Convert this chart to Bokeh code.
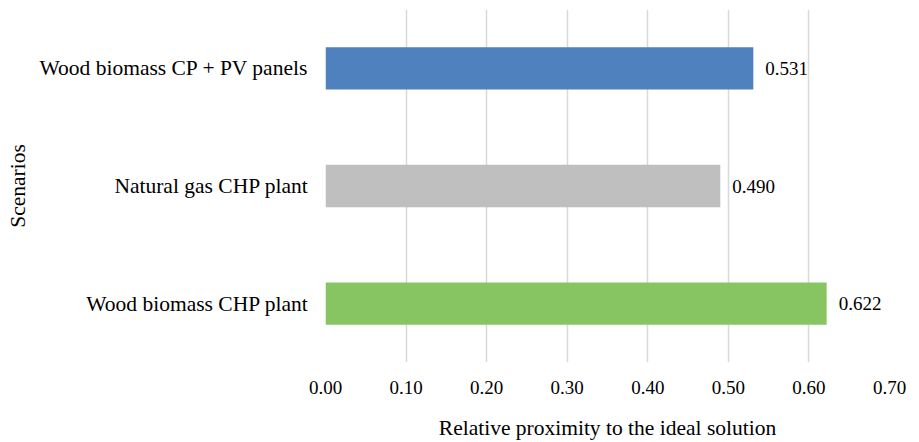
from bokeh.plotting import figure
from bokeh.models import ColumnDataSource, FactorRange, Range1d, LabelSet, FixedTicker, CustomJSTickFormatter
from bokeh.embed import file_html
from bokeh.resources import INLINE

scenarios = ["Wood biomass CHP plant", "Natural gas CHP plant", "Wood biomass CP + PV panels"]
values = [0.622, 0.490, 0.531]
colors = ["#86C562", "#BFBFBF", "#4E81BD"]
value_labels = ["0.622", "0.490", "0.531"]
x_ticks = [0.0, 0.1, 0.2, 0.3, 0.4, 0.5, 0.6, 0.7]

FONT = "Liberation Serif"
TEXT_SIZE = "21.5px"
NUM_SIZE = "19px"

src = ColumnDataSource(dict(cat=scenarios, val=values, color=colors, lab=value_labels))

p = figure(width=919, height=442, output_backend="svg", toolbar_location=None,
           y_range=FactorRange(*scenarios, range_padding=0), x_range=Range1d(0, 0.7),
           min_border_left=325, min_border_right=30, min_border_top=9, min_border_bottom=80)

p.hbar(y="cat", right="val", left=0, height=0.36, color="color", line_color=None, source=src)

labels = LabelSet(x="val", y="cat", text="lab", source=src, x_offset=12, y_offset=0,
                  text_align="left", text_baseline="middle", text_font=FONT,
                  text_font_size=NUM_SIZE, text_color="#000000")
p.add_layout(labels)

p.outline_line_color = None
p.ygrid.grid_line_color = None
p.xgrid.grid_line_color = "#D9D9D9"
p.xgrid.grid_line_width = 1.5
p.xaxis.ticker = FixedTicker(ticks=x_ticks)
p.xaxis.formatter = CustomJSTickFormatter(code="return tick.toFixed(2);")

for ax in (p.xaxis[0], p.yaxis[0]):
    ax.axis_line_color = None
    ax.major_tick_line_color = None
    ax.minor_tick_line_color = None
    ax.major_label_text_font = FONT
    ax.major_label_text_color = "#000000"
    ax.axis_label_text_font = FONT
    ax.axis_label_text_font_size = TEXT_SIZE
    ax.axis_label_text_font_style = "normal"
    ax.axis_label_text_color = "#000000"

p.xaxis.major_label_text_font_size = NUM_SIZE
p.yaxis.major_label_text_font_size = TEXT_SIZE

p.xaxis.axis_label = "Relative proximity to the ideal solution"
p.yaxis.axis_label = "Scenarios"
p.xaxis.major_label_standoff = 12
p.xaxis.axis_label_standoff = 19
p.yaxis.major_label_standoff = 11
p.yaxis.axis_label_standoff = 6

open("out.html", "w").write(file_html(p, INLINE))
